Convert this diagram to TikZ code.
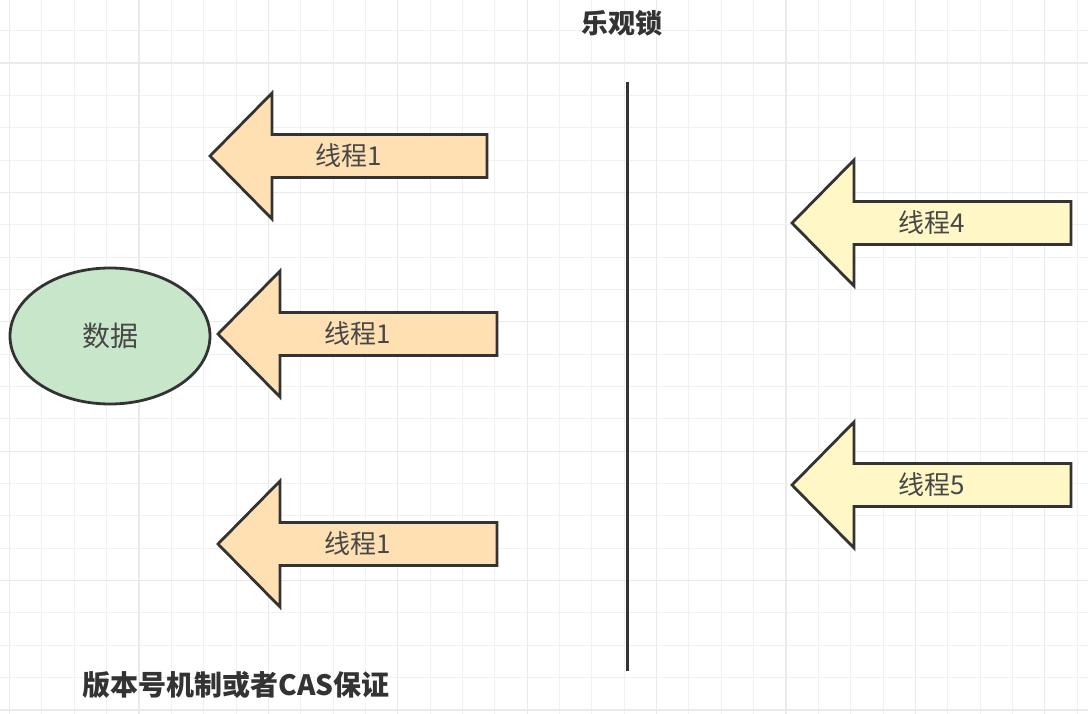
\documentclass[tikz,border=0pt]{standalone}
\usepackage{fontspec}
\usetikzlibrary{shapes.geometric}
\newfontfamily\cjk{Noto Sans CJK SC}
\definecolor{gridminor}{HTML}{F1F1F1}
\definecolor{gridmajor}{HTML}{EAEAEA}
\definecolor{ink}{HTML}{333333}
\definecolor{orangefill}{HTML}{FFE0B2}
\definecolor{yellowfill}{HTML}{FFF7C6}
\definecolor{greenfill}{HTML}{C8E6C9}
\tikzset{
  outline/.style={draw=ink, line width=2.8pt, line join=miter},
  lbl/.style={font=\cjk\fontsize{26}{30}\selectfont, text=ink!90}
}
\begin{document}
\begin{tikzpicture}[x=1pt,y=-1pt]
\useasboundingbox[fill=white] (0,0) rectangle (1088,714);
% grid
\foreach \k in {0,...,33} \draw[gridminor, line width=1pt] ({9.6+32.35*\k},0) -- ({9.6+32.35*\k},714);
\foreach \k in {1,...,22} \draw[gridminor, line width=1pt] (0,{-1.7+32.35*\k}) -- (1088,{-1.7+32.35*\k});
\foreach \k in {0,...,8} \draw[gridmajor, line width=1.2pt] ({9.6+129.4*\k},0) -- ({9.6+129.4*\k},714);
\foreach \k in {0,...,5} \draw[gridmajor, line width=1.2pt] (0,{63+129.4*\k}) -- (1088,{63+129.4*\k});

\begin{scope}
\node[outline, ellipse, fill=greenfill, minimum width=200pt, minimum height=136pt, lbl, font=\cjk\fontsize{28}{32}\selectfont] (data) at (110,336) {数据};

% arrows: tip x / tip y / tail x / fill / label
\foreach \n/\x/\y/\r/\c/\t in {1/210/156/487/orangefill/线程1, 2/218/334/497/orangefill/线程1, 3/218/544/497/orangefill/线程1, 4/792/223/1071/yellowfill/线程4, 5/792/485/1071/yellowfill/线程5} {
  \path[outline, fill=\c] (\x,\y) -- (\x+62,\y-63) -- (\x+62,\y-21.5) -- (\r,\y-21.5) -- (\r,\y+21.5) -- (\x+62,\y+21.5) -- (\x+62,\y+63) -- cycle;
  \node[lbl] (t\n) at ({(\x+\r)/2},\y) {\t};
}
\end{scope}

\coordinate (top) at (627,82);
\coordinate (bot) at (627,671);
\path[draw=ink, line width=3pt] (top) -- (bot);

\node[font=\cjk\bfseries\fontsize{27}{32}\selectfont, text=ink] (title) at (622,23) {乐观锁};
\node[font=\cjk\bfseries\fontsize{28}{32}\selectfont, text=ink, anchor=west] (note) at (79,685) {版本号机制或者CAS保证};
\end{tikzpicture}
\end{document}
